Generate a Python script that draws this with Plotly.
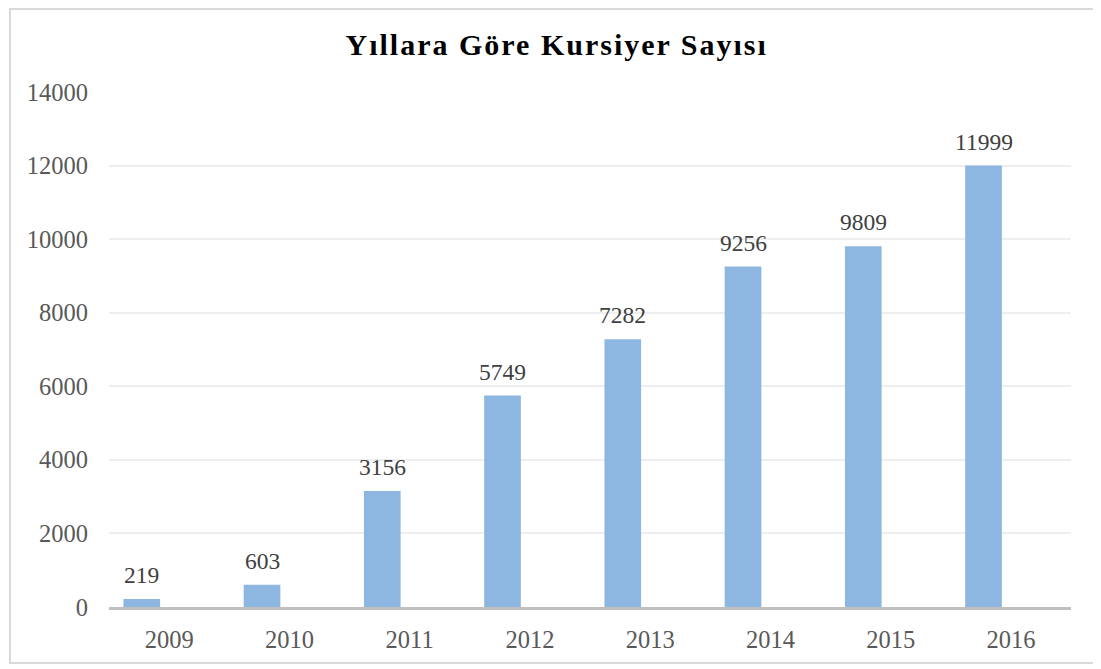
import plotly.graph_objects as go

years = ["2009", "2010", "2011", "2012", "2013", "2014", "2015", "2016"]
kursiyer = [219, 603, 3156, 5749, 7282, 9256, 9809, 11999]
y_ticks = [0, 2000, 4000, 6000, 8000, 10000, 12000, 14000]

BAR_W = 0.305
BAR_OFF = -0.38
SERIF = "Liberation Serif, Times New Roman, serif"

fig = go.Figure()
fig.add_trace(go.Bar(
    x=years, y=kursiyer,
    width=BAR_W, offset=BAR_OFF,
    marker=dict(color="#8DB7E1", line=dict(width=0)),
    hoverinfo="x+y",
))

annotations = []
for i, v in enumerate(kursiyer):
    annotations.append(dict(
        x=i + BAR_OFF + BAR_W / 2, y=v, xref="x", yref="y",
        text=str(v), showarrow=False, yanchor="bottom", yshift=9,
        font=dict(family=SERIF, size=23.5, color="#404040"),
    ))
fig.update_layout(annotations=annotations)

fig.update_layout(
    width=1093, height=661,
    margin=dict(l=101, r=30, t=84, b=62),
    paper_bgcolor="white", plot_bgcolor="white",
    showlegend=False,
    title=dict(
        text='<span style="letter-spacing:2px">Yıllara Göre Kursiyer Sayısı</span>',
        x=0.502, xanchor="center", y=1 - 36 / 661, yanchor="middle",
        font=dict(family=SERIF, size=30, color="#000000", weight="bold"),
    ),
    xaxis=dict(
        type="category", range=[-0.5, 7.5],
        showgrid=False, showline=True, linecolor="#BFBFBF", linewidth=2.5,
        ticks="", ticklabelstandoff=9,
        tickfont=dict(family=SERIF, size=24.5, color="#595959"),
        zeroline=False, fixedrange=True,
    ),
    yaxis=dict(
        range=[0, 14000], tickvals=y_ticks, ticktext=[str(t) for t in y_ticks],
        showgrid=True, gridcolor="#EEEEEE", gridwidth=1.5,
        showline=False, zeroline=False, ticks="", ticklabelstandoff=20,
        tickfont=dict(family=SERIF, size=24.5, color="#595959"),
        fixedrange=True,
    ),
    shapes=[dict(
        type="rect", xref="paper", yref="paper",
        x0=-99 / 962, x1=1 + 24 / 962, y0=-56 / 515, y1=1 + 83 / 515,
        line=dict(color="#D9D9D9", width=2), fillcolor="rgba(0,0,0,0)", layer="below",
    )],
)

fig.write_html("out.html")
